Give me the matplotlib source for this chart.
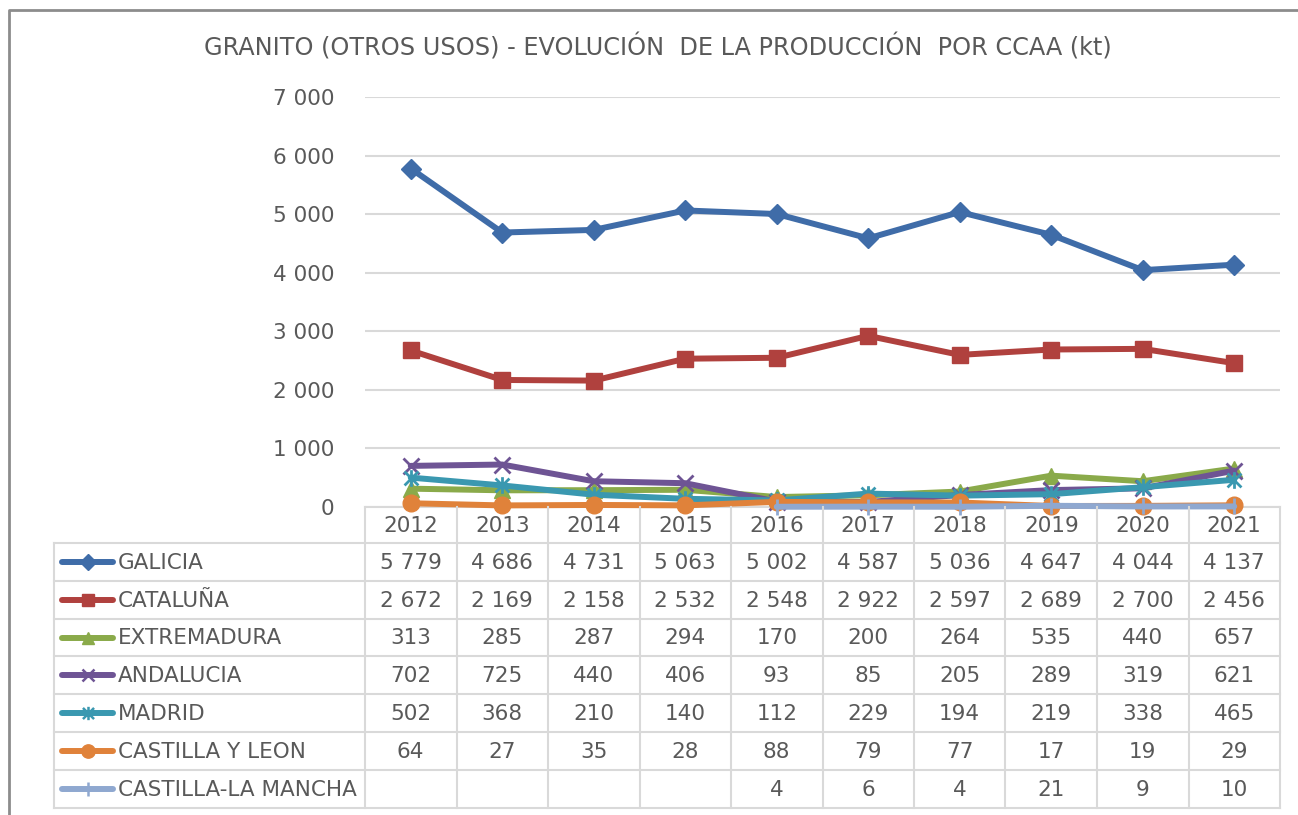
import matplotlib
matplotlib.use("Agg")
import matplotlib.pyplot as plt
import matplotlib.transforms as mtransforms
from matplotlib.path import Path
from matplotlib.lines import Line2D
import numpy as np

years = ["2012", "2013", "2014", "2015", "2016", "2017", "2018", "2019", "2020", "2021"]
galicia = [5779, 4686, 4731, 5063, 5002, 4587, 5036, 4647, 4044, 4137]
cataluna = [2672, 2169, 2158, 2532, 2548, 2922, 2597, 2689, 2700, 2456]
extremadura = [313, 285, 287, 294, 170, 200, 264, 535, 440, 657]
andalucia = [702, 725, 440, 406, 93, 85, 205, 289, 319, 621]
madrid = [502, 368, 210, 140, 112, 229, 194, 219, 338, 465]
castilla_leon = [64, 27, 35, 28, 88, 79, 77, 17, 19, 29]
castilla_mancha = [None, None, None, None, 4, 6, 4, 21, 9, 10]
names = ["GALICIA", "CATALUÑA", "EXTREMADURA", "ANDALUCIA", "MADRID",
         "CASTILLA Y LEON", "CASTILLA-LA MANCHA"]
title = "GRANITO (OTROS USOS) - EVOLUCIÓN  DE LA PRODUCCIÓN  POR CCAA (kt)"

series = [galicia, cataluna, extremadura, andalucia, madrid, castilla_leon, castilla_mancha]

star = Path([(-1, -1), (1, 1), (-1, 1), (1, -1), (0, -1.2), (0, 1.2)],
            [Path.MOVETO, Path.LINETO, Path.MOVETO, Path.LINETO, Path.MOVETO, Path.LINETO])
styles = [
    dict(color="#3F6CA8", marker="D", ms=10.5, filled=True),
    dict(color="#B0413E", marker="s", ms=11, filled=True),
    dict(color="#8AAA4A", marker="^", ms=11, filled=True),
    dict(color="#6E5494", marker="x", ms=11, filled=False),
    dict(color="#3A98B0", marker=star, ms=12, filled=False),
    dict(color="#E0823A", marker="o", ms=12, filled=True),
    dict(color="#8FA8D0", marker="|", ms=12, filled=False),
]

W, H = 1298, 815
fig = plt.figure(figsize=(W / 100, H / 100), dpi=100)
fig.patch.set_facecolor("white")

def fx(px):
    return px / W

def fy(py):
    return 1 - py / H

left, right, top, bottom = 365, 1280, 97, 507
ax = fig.add_axes([fx(left), fy(bottom), fx(right) - fx(left), fy(top) - fy(bottom)])
ax.set_xlim(-0.5, len(years) - 0.5)
ax.set_ylim(0, 7000)
ax.set_yticks(np.arange(0, 7001, 1000))
ax.set_yticklabels([f"{v:,}".replace(",", " ") for v in range(0, 7001, 1000)])
ax.set_xticks([])
ax.grid(axis="y", color="#D9D9D9", linewidth=1.5)
ax.set_axisbelow(True)
for s in ["top", "right", "left"]:
    ax.spines[s].set_visible(False)
ax.spines["bottom"].set_color("#D9D9D9")
ax.spines["bottom"].set_linewidth(1.5)
ax.tick_params(axis="y", length=0, pad=22, labelsize=15.5, labelcolor="#595959")

x = np.arange(len(years))
for vals, st in zip(series, styles):
    xs = [xi for xi, v in zip(x, vals) if v is not None]
    ys = [v for v in vals if v is not None]
    kw = dict(color=st["color"], linewidth=4.3, marker=st["marker"], markersize=st["ms"],
              markeredgecolor=st["color"], solid_capstyle="round", clip_on=False, zorder=3)
    if st["filled"]:
        kw["markerfacecolor"] = st["color"]
    else:
        kw["markerfacecolor"] = "none"
        kw["markeredgewidth"] = 2
    ax.plot(xs, ys, **kw)

# Table
trans = mtransforms.blended_transform_factory(ax.transData, fig.transFigure)
gc = "#D9D9D9"
row_edges = [543 + 37.8 * i for i in range(8)]
tleft = 54
for ry in row_edges:
    fig.add_artist(Line2D([fx(tleft), fx(right)], [fy(ry), fy(ry)], color=gc, lw=1.5))
fig.add_artist(Line2D([fx(tleft), fx(tleft)], [fy(row_edges[0]), fy(row_edges[-1])], color=gc, lw=1.5))
for i in range(len(years) + 1):
    xd = i - 0.5
    fig.add_artist(Line2D([xd, xd], [fy(bottom), fy(row_edges[-1])], color=gc, lw=1.5,
                          transform=trans))
for i, yr in enumerate(years):
    fig.text(i, fy((bottom + row_edges[0]) / 2 + 1), yr, transform=trans, ha="center",
             va="center", fontsize=15.5, color="#595959")
for r, (nm, vals, st) in enumerate(zip(names, series, styles)):
    yc = (row_edges[r] + row_edges[r + 1]) / 2
    fig.add_artist(Line2D([fx(62), fx(113)], [fy(yc), fy(yc)], color=st["color"], lw=4.3,
                          solid_capstyle="round"))
    mkw = dict(color=st["color"], marker=st["marker"], markersize=st["ms"] * 0.8,
               markeredgecolor=st["color"], linestyle="none")
    if st["filled"]:
        mkw["markerfacecolor"] = st["color"]
    else:
        mkw["markerfacecolor"] = "none"
        mkw["markeredgewidth"] = 1.8
    fig.add_artist(Line2D([fx(88)], [fy(yc)], **mkw))
    fig.text(fx(118), fy(yc + 1), nm, ha="left", va="center", fontsize=15.5, color="#595959")
    for i, v in enumerate(vals):
        if v is None:
            continue
        fig.text(i, fy(yc + 1), f"{v:,}".replace(",", " "), transform=trans, ha="center",
                 va="center", fontsize=15.5, color="#595959")

fig.text(fx(658), fy(47), title, ha="center", va="center", fontsize=17.3, color="#595959")

fig.add_artist(Line2D([fx(9), fx(9), fx(1300)], [fy(820), fy(10), fy(10)], color="#8C8C8C", lw=2))

fig.savefig("out.png", dpi=100)
